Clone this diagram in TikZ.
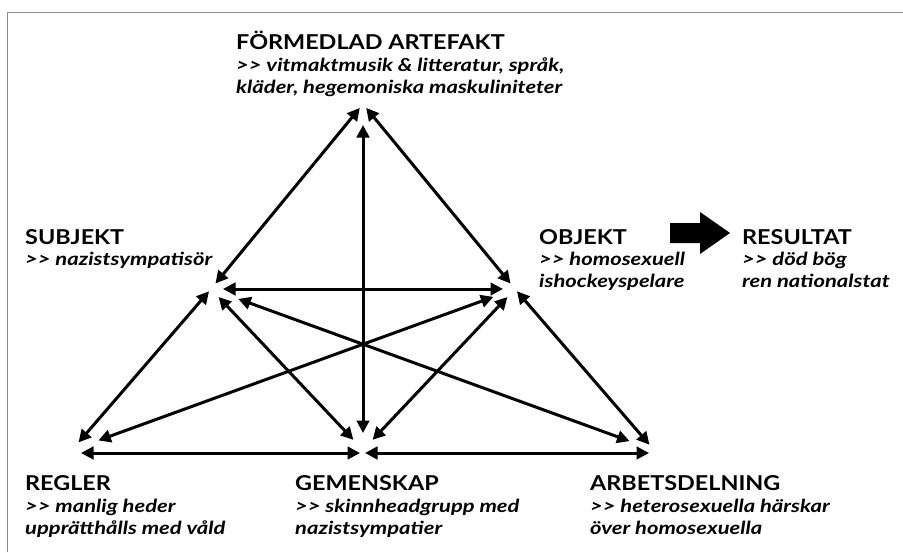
\documentclass[tikz,border=0pt]{standalone}
\usepackage{fontspec}
\setmainfont{Lato}
\newfontfamily\headfont{Lato}[FakeStretch=1.14]
\newfontfamily\subfont{Lato}[FakeStretch=1.22]
\usetikzlibrary{arrows.meta}
\begin{document}
\begin{tikzpicture}[x=1pt,y=-1pt,
  link/.style={line width=3pt, {Triangle[length=12.5pt,width=12.5pt]}-{Triangle[length=12.5pt,width=12.5pt]}},
  heading/.style={anchor=base west, inner sep=0pt, font=\headfont\fontsize{20.5}{22}\selectfont\bfseries},
  sub/.style={anchor=base west, inner sep=0pt, font=\subfont\fontsize{18}{22}\selectfont\bfseries\itshape},
  frameline/.style={draw=black!45, line width=1.2pt}
]
\useasboundingbox (0,0) rectangle (903,552);
\draw[frameline] (7.5,552) -- (7.5,12.5) -- (903,12.5);

% vertices
\coordinate (A) at (363,104);
\coordinate (S) at (211,289);
\coordinate (O) at (515,289);
\coordinate (R) at (72,450);
\coordinate (G) at (363,450);
\coordinate (D) at (654,450);

% connectors
\draw[link, shorten <=5pt, shorten >=7pt] (A) -- (S);
\draw[link, shorten <=5pt, shorten >=7pt] (A) -- (O);
\draw[link, shorten <=21pt, shorten >=17pt] (A) -- (G);
\draw[link, shorten <=12pt, shorten >=12pt] (S) -- (O);
\draw[link, shorten <=3pt, shorten >=10pt] (S) -- (R);
\draw[link, shorten <=23pt, shorten >=28pt] (O) -- (R);
\draw[link, shorten <=29pt, shorten >=26pt] (S) -- (D);
\draw[link, shorten <=3pt, shorten >=7pt] (O) -- (D);
\draw[link, shorten <=11pt, shorten >=14pt] (S) -- (G);
\draw[link, shorten <=11pt, shorten >=14pt] (O) -- (G);
\draw[link, shorten <=9pt, shorten >=3pt] ([yshift=-3pt]R) -- ([yshift=-3pt]G);
\draw[link, shorten <=2pt, shorten >=5pt] ([yshift=-3pt]G) -- ([yshift=-3pt]D);

% result arrow
\fill (670,223) -- (700,223) -- (700,212) -- (730,233) -- (700,254) -- (700,243) -- (670,243) -- cycle;

% texts
\node[heading] (artT) at (236,49) {FÖRMEDLAD ARTEFAKT};
\node[sub] (art1) at (236,71) {>{}> vitmaktmusik \& litteratur, språk,};
\node[sub] (art2) at (236,93) {kläder, hegemoniska maskuliniteter};

\node[heading] (subT) at (25,244) {SUBJEKT};
\node[sub] (sub1) at (25,265) {>{}> nazistsympatisör};

\node[heading] (objT) at (539,244) {OBJEKT};
\node[sub] (obj1) at (539,265) {>{}> homosexuell};
\node[sub] (obj2) at (539,287) {ishockeyspelare};

\node[heading] (resT) at (742,244) {RESULTAT};
\node[sub] (res1) at (742,265) {>{}> död bög};
\node[sub] (res2) at (742,287) {ren nationalstat};

\node[heading] (regT) at (25,490) {REGLER};
\node[sub] (reg1) at (25,512) {>{}> manlig heder};
\node[sub] (reg2) at (25,534) {upprätthålls med våld};

\node[heading] (gemT) at (295,490) {GEMENSKAP};
\node[sub] (gem1) at (295,512) {>{}> skinnheadgrupp med};
\node[sub] (gem2) at (295,534) {nazistsympatier};

\node[heading] (arbT) at (590,490) {ARBETSDELNING};
\node[sub] (arb1) at (590,512) {>{}> heterosexuella härskar};
\node[sub] (arb2) at (590,534) {över homosexuella};
\end{tikzpicture}
\end{document}
